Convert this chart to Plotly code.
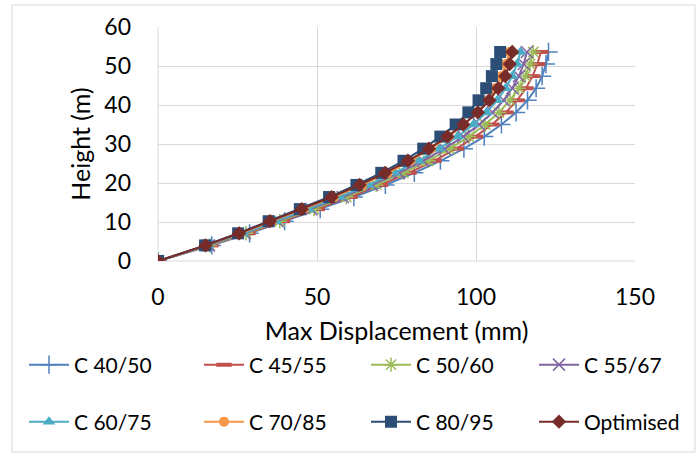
import plotly.graph_objects as go

heights = [0, 4, 7.1, 10.2, 13.3, 16.4, 19.5, 22.6, 25.7, 28.8, 31.9, 35, 38.1, 41.2, 44.3, 47.4, 50.5, 53.6]

c40_50 = [0, 16.9, 28.8, 39.8, 51.0, 61.6, 71.5, 80.6, 88.8, 96.2, 102.6, 108.0, 112.6, 116.2, 118.9, 120.8, 122.0, 122.8]
c45_55 = [0, 16.6, 28.3, 39.1, 50.1, 60.4, 70.0, 78.9, 86.8, 93.8, 99.8, 105.0, 109.4, 112.9, 115.7, 117.8, 119.3, 120.4]
c50_60 = [0, 16.3, 27.7, 38.3, 49.1, 59.2, 68.6, 77.2, 85.0, 91.8, 97.8, 102.9, 107.2, 110.7, 113.4, 115.5, 117.0, 118.0]
c55_67 = [0, 16.0, 27.2, 37.6, 48.2, 58.1, 67.4, 75.8, 83.4, 90.1, 96.0, 101.0, 105.2, 108.7, 111.4, 113.5, 115.0, 116.0]
c60_75 = [0, 15.7, 26.7, 36.9, 47.3, 57.0, 66.2, 74.4, 81.9, 88.4, 94.2, 99.2, 103.3, 106.7, 109.3, 111.4, 112.9, 114.0]
c70_85 = [0, 15.2, 25.9, 35.8, 45.9, 55.3, 64.2, 72.2, 79.4, 85.8, 91.4, 96.2, 100.3, 103.6, 106.1, 108.0, 109.4, 110.5]
c80_95 = [0, 14.8, 25.2, 34.8, 44.6, 53.8, 62.4, 70.2, 77.2, 83.4, 88.8, 93.6, 97.6, 100.8, 103.2, 105.0, 106.4, 107.6]
optimised = [0, 15.0, 25.5, 35.2, 45.2, 54.6, 63.4, 71.4, 78.6, 85.2, 91.0, 96.0, 100.6, 104.2, 107.0, 109.2, 110.6, 111.4]

names = ["C 40/50", "C 45/55", "C 50/60", "C 55/67", "C 60/75", "C 70/85", "C 80/95", "Optimised"]
series = [c40_50, c45_55, c50_60, c55_67, c60_75, c70_85, c80_95, optimised]
colors = ["#4F81BD", "#C0504D", "#9BBB59", "#8064A2", "#4BACC6", "#F79646", "#2C4D75", "#772C2A"]
symbols = ["cross-thin-open", "line-ew-open", "asterisk-open", "x-thin-open",
           "triangle-up", "circle", "square", "diamond"]
sizes = [13, 11, 12, 12, 11, 10, 12, 11]

font = "Lato, 'Open Sans', sans-serif"

L, R, T, B = 158, 635, 27, 261
W, H = 699, 455
pw, ph = R - L, B - T

def px(x):
    return (x - L) / pw

def py(y):
    return (B - y) / ph

# legend entry positions (left edge px, row centre px)
leg_x = [24, 199, 366, 534, 24, 199, 366, 534]
leg_y = [365, 365, 365, 365, 422, 422, 422, 422]

fig = go.Figure()
legends = {}
for i, (nm, vals) in enumerate(zip(names, series)):
    open_sym = symbols[i].endswith("open")
    mk = dict(symbol=symbols[i], size=sizes[i], color=colors[i])
    if open_sym:
        mk["line"] = dict(color=colors[i], width=4 if i == 1 else 1.5)
    else:
        mk["line"] = dict(color=colors[i], width=0)
    key = "legend" if i == 0 else f"legend{i + 1}"
    fig.add_trace(go.Scatter(
        x=vals, y=heights, name=nm, mode="lines+markers",
        line=dict(color=colors[i], width=2), marker=mk,
        legend=key,
    ))
    legends[key] = dict(
        x=px(leg_x[i]), y=py(leg_y[i]), xanchor="left", yanchor="middle",
        orientation="h", font=dict(family=font, size=21, color="#000000"),
        bgcolor="rgba(0,0,0,0)", itemwidth=40,
    )

fig.update_layout(
    width=W, height=H,
    margin=dict(l=L, r=W - R, t=T, b=H - B, autoexpand=False),
    paper_bgcolor="white", plot_bgcolor="white",
    showlegend=True,
    xaxis=dict(
        range=[0, 150], dtick=50, showgrid=True, gridcolor="#D9D9D9", gridwidth=1,
        zeroline=False, showline=False, ticks="", automargin=False,
        tickfont=dict(family=font, size=23, color="#000000"),
        ticklabelstandoff=20,
        title=dict(text="Max Displacement (mm)", font=dict(family=font, size=25, color="#000000"), standoff=13),
    ),
    yaxis=dict(
        range=[0, 60], dtick=10, showgrid=True, gridcolor="#D9D9D9", gridwidth=1,
        zeroline=False, showline=False, ticks="", automargin=False,
        tickfont=dict(family=font, size=23, color="#000000"),
        ticklabelstandoff=26,
        title=dict(text="Height (m)", font=dict(family=font, size=25, color="#000000"), standoff=6),
    ),
    shapes=[
        dict(type="rect", xref="paper", yref="paper",
             x0=px(12), x1=px(695), y0=py(452), y1=py(5),
             line=dict(color="#D9D9D9", width=1), fillcolor="rgba(0,0,0,0)", layer="below"),
        dict(type="line", xref="paper", yref="paper", x0=0, x1=1, y0=0, y1=0,
             line=dict(color="#D9D9D9", width=1), layer="below"),
        dict(type="line", xref="paper", yref="paper", x0=0, x1=0, y0=0, y1=1,
             line=dict(color="#D9D9D9", width=1), layer="below"),
    ],
    **legends,
)

fig.write_html("out.html", config={"displayModeBar": False},
               post_script="document.body.style.margin='0';")
